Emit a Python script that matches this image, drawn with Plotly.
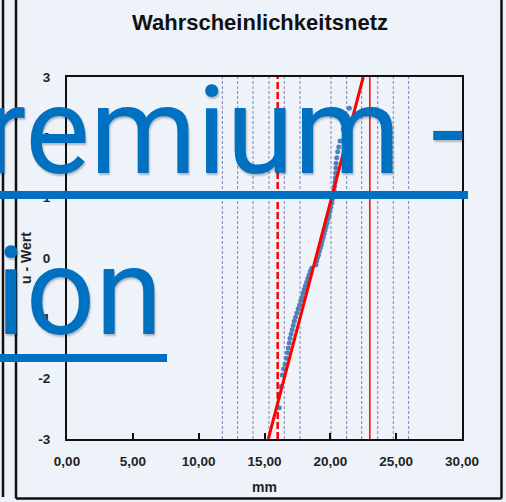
import plotly.graph_objects as go

# ---- data ----
x_vals = [16.12, 16.25, 16.35, 16.45, 16.56, 16.65, 16.74, 16.81, 16.88, 16.94,
          17.02, 17.10, 17.18, 17.26, 17.36, 17.46, 17.56, 17.66, 17.75, 17.84,
          17.93, 18.02, 18.11, 18.20, 18.29, 18.38, 18.48, 18.58, 18.91, 18.96,
          19.02, 19.10, 19.17, 19.25, 19.32, 19.38, 19.46, 19.53, 19.60, 19.68,
          19.75, 19.82, 19.90, 19.97, 20.04, 20.12, 20.18, 20.24, 20.28, 20.32,
          20.35, 20.38, 20.40, 20.42, 20.44, 20.49, 20.56, 20.64, 20.74, 20.98, 21.44]
u_vals = [-2.48, -2.13, -1.94, -1.84, -1.76, -1.66, -1.57, -1.49, -1.41, -1.33,
          -1.26, -1.19, -1.12, -1.05, -0.98, -0.91, -0.84, -0.78, -0.71, -0.65,
          -0.58, -0.52, -0.46, -0.40, -0.34, -0.28, -0.22, -0.17, -0.11, -0.05,
          0.00, 0.05, 0.11, 0.17, 0.22, 0.28, 0.34, 0.40, 0.46, 0.52,
          0.58, 0.65, 0.71, 0.78, 0.84, 0.91, 0.98, 1.05, 1.12, 1.19,
          1.26, 1.33, 1.41, 1.49, 1.57, 1.66, 1.76, 1.84, 1.94, 2.13, 2.48]

fit_x = [15.29, 22.50]
fit_u = [-3, 3]

sigma_lines = [11.80, 12.96, 14.13, 15.34, 16.50, 17.70, 20.05, 21.24, 22.38, 23.60, 24.78, 25.95]
lower_limit = 16.0
upper_limit = 23.0

x_ticks = [0, 5, 10, 15, 20, 25, 30]
x_tick_text = ["0,00", "5,00", "10,00", "15,00", "20,00", "25,00", "30,00"]
y_ticks = [-3, -2, -1, 0, 1, 2, 3]
y_tick_text = ["-3", "-2", "-1", "0", "1", "2", "3"]

title_text = "Wahrscheinlichkeitsnetz"
x_title = "mm"
y_title = "u - Wert"
wm_line1 = "Premium -"
wm_line2 = "Version"

# ---- figure ----
W, H = 506, 502
L, R, T, B = 67, 462, 77, 439
BG = "#EEF2F9"

fig = go.Figure()

for v in sigma_lines:
    fig.add_trace(go.Scatter(x=[v, v], y=[-3, 3], mode="lines",
                             line=dict(color="#7B83BD", width=1, dash="3px,2px"),
                             hoverinfo="skip", showlegend=False))

fig.add_trace(go.Scatter(x=[lower_limit, lower_limit], y=[-3, 3], mode="lines",
                         line=dict(color="#FF0000", width=2.5, dash="7px,3px"),
                         showlegend=False))
fig.add_trace(go.Scatter(x=[upper_limit, upper_limit], y=[-3, 3], mode="lines",
                         line=dict(color="#FF0000", width=1.5),
                         showlegend=False))

fig.add_trace(go.Scatter(x=x_vals, y=u_vals, mode="markers",
                         marker=dict(color="#4F81BD", size=5),
                         showlegend=False))

fig.add_trace(go.Scatter(x=fit_x, y=fit_u, mode="lines",
                         line=dict(color="#FF0000", width=3),
                         showlegend=False))

def px(xp):
    return (xp - L) / (R - L)

def py(yp):
    return (B - yp) / (B - T)

tick_font = dict(family="Liberation Sans", size=13.5, color="#222222", weight="bold")

fig.update_layout(
    width=W, height=H,
    margin=dict(l=L, r=W - R, t=T, b=H - B, pad=0, autoexpand=False),
    paper_bgcolor=BG, plot_bgcolor=BG,
    showlegend=False,
    title=dict(text=title_text, x=px(260), xanchor="center", xref="paper",
               y=1 - 22 / H, yanchor="middle", automargin=False,
               font=dict(family="Liberation Sans", size=22, color="#111111", weight="bold")),
    xaxis=dict(range=[0, 30], tickvals=x_ticks, ticktext=x_tick_text, automargin=False,
               showgrid=False, zeroline=False, showline=True, linecolor="#111111",
               linewidth=2, mirror=True, ticks="inside", ticklen=6, tickwidth=1.5,
               tickcolor="#111111", tickfont=tick_font, ticklabelstandoff=9,
               title=dict(text=x_title, standoff=14,
                          font=dict(family="Liberation Sans", size=14, color="#222222", weight="bold"))),
    yaxis=dict(range=[-3, 3], tickvals=y_ticks, ticktext=y_tick_text, automargin=False,
               showgrid=False, zeroline=False,
               showline=True, linecolor="#111111", linewidth=2, mirror=True,
               ticks="", tickfont=tick_font, ticklabelstandoff=12,
               title=dict(text=y_title, standoff=3,
                          font=dict(family="Liberation Sans", size=14, color="#222222", weight="bold"))),
)

# frame lines
frame = dict(color="#111111", width=2.5)
fig.add_shape(type="line", xref="paper", yref="paper", x0=px(3), x1=px(3), y0=py(-5), y1=py(497), line=frame)
fig.add_shape(type="line", xref="paper", yref="paper", x0=px(16), x1=px(16), y0=py(-5), y1=py(498.5), line=frame)
fig.add_shape(type="line", xref="paper", yref="paper", x0=px(16), x1=px(501.5), y0=py(498.5), y1=py(498.5), line=frame)
fig.add_shape(type="line", xref="paper", yref="paper", x0=px(501.5), x1=px(501.5), y0=py(-5), y1=py(498.5), line=frame)

# watermark
wm_color = "#0070C0"
wm_font = dict(family="Roboto", size=122, color=wm_color, shadow="1px 2px 2px rgba(0,0,0,0.25)")
fig.add_annotation(text=wm_line1, xref="paper", yref="paper", x=px(467), y=py(205),
                   xanchor="right", yanchor="bottom", showarrow=False, font=wm_font)
fig.add_annotation(text=wm_line2, xref="paper", yref="paper", x=px(165), y=py(366),
                   xanchor="right", yanchor="bottom", showarrow=False, font=wm_font)
fig.add_shape(type="line", xref="paper", yref="paper", x0=px(-10), x1=px(468), y0=py(195), y1=py(195),
              line=dict(color=wm_color, width=8))
fig.add_shape(type="line", xref="paper", yref="paper", x0=px(-10), x1=px(167), y0=py(358), y1=py(358),
              line=dict(color=wm_color, width=8))

fig.write_html("out.html", config={"displayModeBar": False},
               post_script="document.body.style.margin='0';document.body.style.overflow='hidden';")
